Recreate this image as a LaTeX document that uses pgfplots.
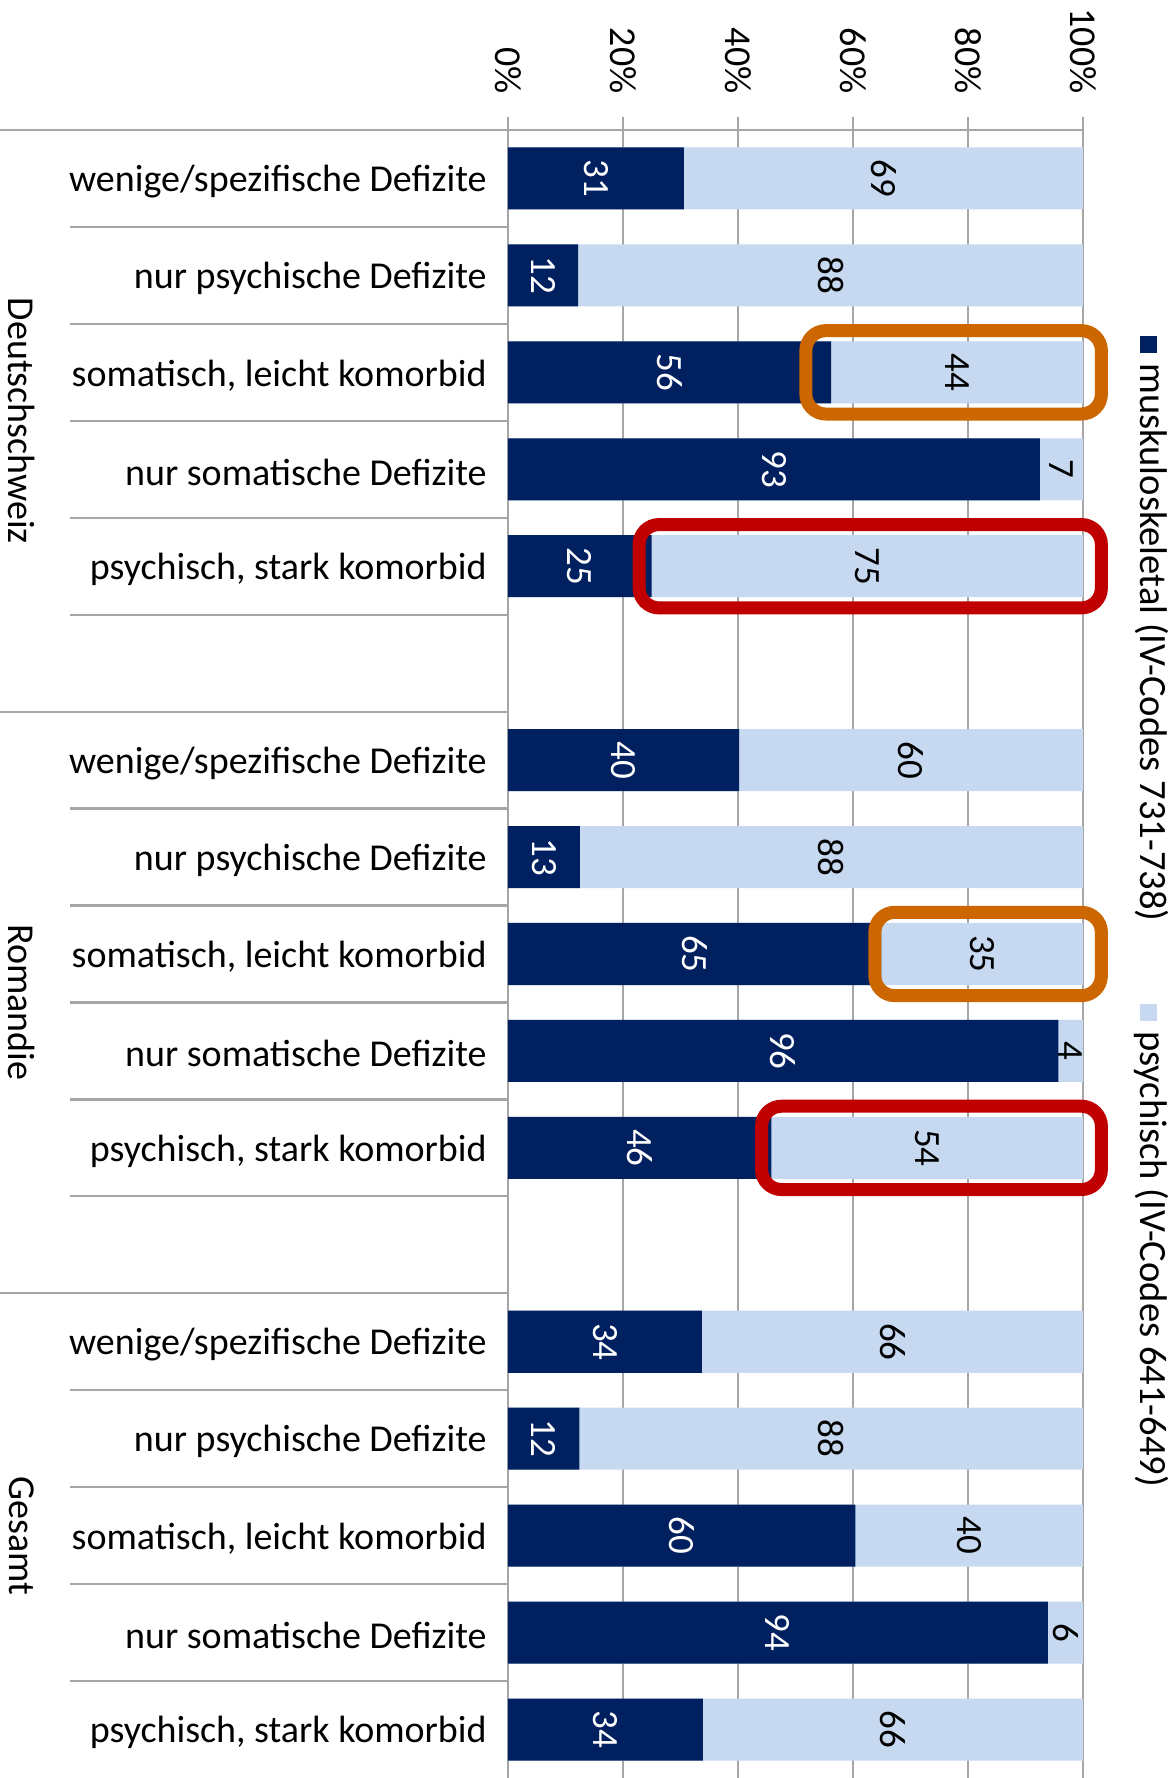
\documentclass[border=0pt]{standalone}
\usepackage{fontspec}
\setmainfont{Carlito}
\usepackage{pgfplots}
\pgfplotsset{compat=1.18}
\usepackage{pgfplotstable}

\definecolor{navy}{RGB}{0,32,96}
\definecolor{lightblue}{RGB}{198,217,241}
\definecolor{orangebox}{RGB}{204,102,0}
\definecolor{redbox}{RGB}{192,0,0}
\definecolor{linegray}{RGB}{166,166,166}

\newcommand{\lbl}{\fontsize{19}{22.8}\selectfont}
\newcommand{\val}{\fontsize{18.5}{22}\selectfont}

% y: row position (top row = 16), d: muskuloskeletal share, dl/ll: printed labels
\pgfplotstableread{
y  d    dl ll
16 30.6 31 69
15 12.2 12 88
14 56.2 56 44
13 92.5 93 7
12 25.0 25 75
10 40.2 40 60
9  12.5 13 88
8  64.9 65 35
7  95.7 96 4
6  45.8 46 54
4  33.7 34 66
3  12.4 12 88
2  60.4 60 40
1  93.9 94 6
0  33.9 34 66
}\bars

\begin{document}
\begin{tikzpicture}
\begin{axis}[
    at={(0,0)}, anchor=south west,
    width=287.5pt, height=824pt, scale only axis,
    xmin=0, xmax=100, ymin=-0.5, ymax=16.5,
    axis x line*=top, axis y line*=left,
    axis line style={linegray, line width=1.1pt},
    xtick={0,20,...,100},
    xticklabels={0\%,20\%,40\%,60\%,80\%,100\%},
    tick align=outside, major tick length=6.5pt,
    xtick style={linegray, line width=1.1pt},
    xmajorgrids, grid style={linegray, line width=1.1pt},
    xticklabel style={rotate=-90, anchor=east, inner sep=0pt, font=\lbl},
    xticklabel shift=11.5pt,
    ytick={0,1,2,3,4,6,7,8,9,10,12,13,14,15,16},
    yticklabels={{psychisch, stark komorbid},{nur somatische Defizite},{somatisch, leicht komorbid},{nur psychische Defizite},{wenige/spezifische Defizite},
                 {psychisch, stark komorbid},{nur somatische Defizite},{somatisch, leicht komorbid},{nur psychische Defizite},{wenige/spezifische Defizite},
                 {psychisch, stark komorbid},{nur somatische Defizite},{somatisch, leicht komorbid},{nur psychische Defizite},{wenige/spezifische Defizite}},
    ytick style={draw=none},
    yticklabel style={anchor=east, inner sep=0pt, xshift=-4pt, yshift=-1.5pt, font=\lbl},
    clip=false,
]
\addplot[xbar, bar width=0.64, fill=lightblue, draw=none] table[x expr=100, y=y] {\bars};
\addplot[xbar, bar width=0.64, fill=navy, draw=none] table[x=d, y=y] {\bars};

\addplot[draw=none, nodes near coords, point meta=explicit symbolic,
    nodes near coords style={anchor=center, rotate=-90, text=white, inner sep=0pt, font=\val}]
    table[x expr=\thisrow{d}/2, y=y, meta=dl] {\bars};
\addplot[draw=none, nodes near coords, point meta=explicit symbolic,
    nodes near coords style={anchor=center, rotate=-90, text=black, inner sep=0pt, font=\val}]
    table[x expr=(\thisrow{d}+100)/2, y=y, meta=ll] {\bars};

% highlight boxes
\draw[orangebox, line width=6.5pt, rounded corners=10pt] (axis cs:51.8,13.57) rectangle (axis cs:103.2,14.43);
\draw[redbox, line width=6.5pt, rounded corners=10pt] (axis cs:22.8,11.57) rectangle (axis cs:103.2,12.43);
\draw[orangebox, line width=6.5pt, rounded corners=10pt] (axis cs:63.8,7.57) rectangle (axis cs:103.2,8.43);
\draw[redbox, line width=6.5pt, rounded corners=10pt] (axis cs:44.1,5.57) rectangle (axis cs:103.2,6.43);

% category separators
\pgfplotsinvokeforeach{16.5,10.5,4.5}{
  \draw[linegray, line width=1.1pt] ([xshift=-254pt]axis cs:0,#1) -- (axis cs:0,#1);
}
\pgfplotsinvokeforeach{15.5,14.5,13.5,12.5,11.5,9.5,8.5,7.5,6.5,5.5,3.5,2.5,1.5,0.5}{
  \draw[linegray, line width=1.1pt] ([xshift=-219pt]axis cs:0,#1) -- (axis cs:0,#1);
}

% group labels
\node[rotate=-90, font=\lbl] at ([xshift=-243pt]axis cs:0,13.5) {Deutschschweiz};
\node[rotate=-90, font=\lbl] at ([xshift=-243pt]axis cs:0,7.5) {Romandie};
\node[rotate=-90, font=\lbl] at ([xshift=-243pt]axis cs:0,2) {Gesamt};
\end{axis}

% legend
\node[rotate=-90, anchor=base west, inner sep=0pt, font=\fontsize{19.3}{23}\selectfont] at (316pt,721pt)
  {\textcolor{navy}{\rule{8.5pt}{8.5pt}}\hspace{5pt}muskuloskeletal (IV-Codes 731-738)};
\node[rotate=-90, anchor=base west, inner sep=0pt, font=\fontsize{19.3}{23}\selectfont] at (316pt,387pt)
  {\textcolor{lightblue}{\rule{8.5pt}{8.5pt}}\hspace{5pt}psychisch (IV-Codes 641-649)};

\pgfresetboundingbox
\path (-254pt,0pt) rectangle (333pt,889pt);
\end{tikzpicture}
\end{document}
